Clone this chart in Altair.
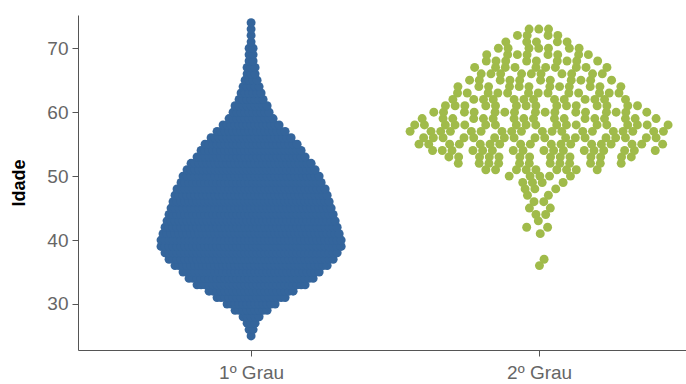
import altair as alt
import pandas as pd

# Age (Idade) distribution per education level, as dot counts per integer age
groups = ["1º Grau", "2º Grau"]

ages_1 = list(range(25, 75))
counts_1 = [1, 2, 3, 5, 9, 13, 18, 22, 28, 32,
            35, 39, 42, 44, 46, 46, 45, 44, 43, 42,
            41, 40, 39, 38, 36, 35, 33, 31, 28, 26,
            24, 21, 18, 15, 12, 10, 9, 7, 6, 5,
            4, 3, 3, 2, 2, 2, 1, 1, 1, 1]

ages_2 = list(range(36, 74))
counts_2 = [1, 1, 0, 0, 0, 1, 2, 1, 2, 2,
            2, 2, 3, 4, 5, 9, 12, 14, 17, 18,
            18, 19, 19, 17, 16, 15, 13, 13, 12, 11,
            10, 10, 9, 8, 7, 5, 4, 3]

colors = ["#34659c", "#a0bb4a"]

rows = []
for gi, (ages, counts) in enumerate([(ages_1, counts_1), (ages_2, counts_2)]):
    for a, c in zip(ages, counts):
        for _ in range(c):
            rows.append({"grupo": groups[gi], "gi": gi, "idade": a})
df = pd.DataFrame(rows)

chart = (
    alt.Chart(df)
    .transform_window(rank="row_number()", groupby=["grupo", "idade"])
    .transform_joinaggregate(n="count()", groupby=["grupo", "idade"])
    .transform_calculate(
        sp="datum.gi == 0 ? 0.0139 : 0.0486",
        jit="datum.gi == 0 ? 0 : (((datum.rank * 0.6180339 + datum.idade * 0.4142) % 1) - 0.5) * 0.0486 * 0.8",
    )
    .transform_calculate(xpos="datum.gi + (datum.rank - (datum.n + 1) / 2) * datum.sp + datum.jit")
    .mark_circle(size=80, opacity=1)
    .encode(
        x=alt.X(
            "xpos:Q",
            scale=alt.Scale(domain=[-0.601, 1.51], nice=False, zero=False),
            axis=alt.Axis(
                values=[0, 1],
                labelExpr="datum.value == 0 ? '1º Grau' : '2º Grau'",
                title=None,
                grid=False,
                tickSize=6,
                labelPadding=7,
            ),
        ),
        y=alt.Y(
            "idade:Q",
            scale=alt.Scale(domain=[22.8, 75.2], nice=False, zero=False),
            axis=alt.Axis(
                values=[30, 40, 50, 60, 70],
                title="Idade",
                grid=False,
                tickSize=6,
                labelPadding=4,
                titlePadding=18,
            ),
        ),
        color=alt.Color("grupo:N", scale=alt.Scale(domain=groups, range=colors), legend=None),
    )
    .properties(
        width=608,
        height=335,
        autosize=alt.AutoSizeParams(type="none"),
        padding={"left": 78, "top": 15, "right": 0, "bottom": 34},
    )
    .configure_view(stroke=None)
    .configure_axis(
        domainColor="#555555",
        tickColor="#555555",
        labelColor="#666666",
        labelFont="Liberation Sans",
        labelFontSize=19,
        titleFont="Liberation Sans",
        titleFontSize=18,
        titleFontWeight="bold",
        titleColor="#000000",
    )
)

chart.save("out.html", embed_options={"renderer": "svg", "actions": False})
